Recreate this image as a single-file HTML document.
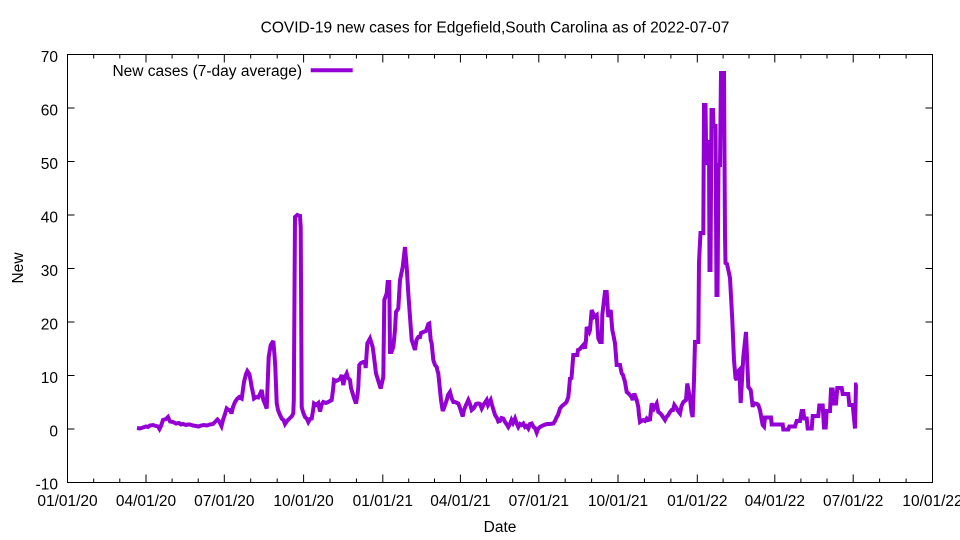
<!DOCTYPE html>
<html>
<head>
<meta charset="utf-8">
<style>
html,body{margin:0;padding:0;background:#fff;}
svg{display:block;}
text{font-family:"Liberation Sans",Arial,sans-serif;fill:#000;}
</style>
</head>
<body>
<svg width="960" height="540" viewBox="0 0 960 540" xmlns="http://www.w3.org/2000/svg">
<rect x="0" y="0" width="960" height="540" fill="#fff"/>
<text x="495" y="32.5" font-size="15.5" text-anchor="middle">COVID-19 new cases for Edgefield,South Carolina as of 2022-07-07</text>

<!-- y ticks -->
<g stroke="#000" stroke-width="1">
<line x1="67.5" y1="54.5" x2="74.5" y2="54.5"/><line x1="932.5" y1="54.5" x2="925.5" y2="54.5"/>
<line x1="67.5" y1="108" x2="74.5" y2="108"/><line x1="932.5" y1="108" x2="925.5" y2="108"/>
<line x1="67.5" y1="161.5" x2="74.5" y2="161.5"/><line x1="932.5" y1="161.5" x2="925.5" y2="161.5"/>
<line x1="67.5" y1="215" x2="74.5" y2="215"/><line x1="932.5" y1="215" x2="925.5" y2="215"/>
<line x1="67.5" y1="268.5" x2="74.5" y2="268.5"/><line x1="932.5" y1="268.5" x2="925.5" y2="268.5"/>
<line x1="67.5" y1="322" x2="74.5" y2="322"/><line x1="932.5" y1="322" x2="925.5" y2="322"/>
<line x1="67.5" y1="375.5" x2="74.5" y2="375.5"/><line x1="932.5" y1="375.5" x2="925.5" y2="375.5"/>
<line x1="67.5" y1="429" x2="74.5" y2="429"/><line x1="932.5" y1="429" x2="925.5" y2="429"/>
</g>
<g font-size="15.5" text-anchor="end">
<text x="58" y="61.8">70</text>
<text x="58" y="115.3">60</text>
<text x="58" y="168.8">50</text>
<text x="58" y="222.3">40</text>
<text x="58" y="275.8">30</text>
<text x="58" y="329.3">20</text>
<text x="58" y="382.8">10</text>
<text x="58" y="436.3">0</text>
<text x="58" y="489.5">-10</text>
</g>

<!-- x ticks -->
<g stroke="#000" stroke-width="1">
<!-- majors -->
<line x1="146" y1="482.5" x2="146" y2="474.5"/><line x1="146" y1="54.5" x2="146" y2="62.5"/>
<line x1="224.3" y1="482.5" x2="224.3" y2="474.5"/><line x1="224.3" y1="54.5" x2="224.3" y2="62.5"/>
<line x1="303.6" y1="482.5" x2="303.6" y2="474.5"/><line x1="303.6" y1="54.5" x2="303.6" y2="62.5"/>
<line x1="382.8" y1="482.5" x2="382.8" y2="474.5"/><line x1="382.8" y1="54.5" x2="382.8" y2="62.5"/>
<line x1="460.4" y1="482.5" x2="460.4" y2="474.5"/><line x1="460.4" y1="54.5" x2="460.4" y2="62.5"/>
<line x1="538.8" y1="482.5" x2="538.8" y2="474.5"/><line x1="538.8" y1="54.5" x2="538.8" y2="62.5"/>
<line x1="618" y1="482.5" x2="618" y2="474.5"/><line x1="618" y1="54.5" x2="618" y2="62.5"/>
<line x1="697.3" y1="482.5" x2="697.3" y2="474.5"/><line x1="697.3" y1="54.5" x2="697.3" y2="62.5"/>
<line x1="774.8" y1="482.5" x2="774.8" y2="474.5"/><line x1="774.8" y1="54.5" x2="774.8" y2="62.5"/>
<line x1="853.2" y1="482.5" x2="853.2" y2="474.5"/><line x1="853.2" y1="54.5" x2="853.2" y2="62.5"/>
<!-- minors -->
<line x1="93.7" y1="482.5" x2="93.7" y2="478.5"/><line x1="93.7" y1="54.5" x2="93.7" y2="58.5"/>
<line x1="119.8" y1="482.5" x2="119.8" y2="478.5"/><line x1="119.8" y1="54.5" x2="119.8" y2="58.5"/>
<line x1="172.1" y1="482.5" x2="172.1" y2="478.5"/><line x1="172.1" y1="54.5" x2="172.1" y2="58.5"/>
<line x1="198.2" y1="482.5" x2="198.2" y2="478.5"/><line x1="198.2" y1="54.5" x2="198.2" y2="58.5"/>
<line x1="250.7" y1="482.5" x2="250.7" y2="478.5"/><line x1="250.7" y1="54.5" x2="250.7" y2="58.5"/>
<line x1="277.2" y1="482.5" x2="277.2" y2="478.5"/><line x1="277.2" y1="54.5" x2="277.2" y2="58.5"/>
<line x1="330" y1="482.5" x2="330" y2="478.5"/><line x1="330" y1="54.5" x2="330" y2="58.5"/>
<line x1="356.4" y1="482.5" x2="356.4" y2="478.5"/><line x1="356.4" y1="54.5" x2="356.4" y2="58.5"/>
<line x1="408.7" y1="482.5" x2="408.7" y2="478.5"/><line x1="408.7" y1="54.5" x2="408.7" y2="58.5"/>
<line x1="434.5" y1="482.5" x2="434.5" y2="478.5"/><line x1="434.5" y1="54.5" x2="434.5" y2="58.5"/>
<line x1="486.5" y1="482.5" x2="486.5" y2="478.5"/><line x1="486.5" y1="54.5" x2="486.5" y2="58.5"/>
<line x1="512.7" y1="482.5" x2="512.7" y2="478.5"/><line x1="512.7" y1="54.5" x2="512.7" y2="58.5"/>
<line x1="565.2" y1="482.5" x2="565.2" y2="478.5"/><line x1="565.2" y1="54.5" x2="565.2" y2="58.5"/>
<line x1="591.6" y1="482.5" x2="591.6" y2="478.5"/><line x1="591.6" y1="54.5" x2="591.6" y2="58.5"/>
<line x1="644.4" y1="482.5" x2="644.4" y2="478.5"/><line x1="644.4" y1="54.5" x2="644.4" y2="58.5"/>
<line x1="670.9" y1="482.5" x2="670.9" y2="478.5"/><line x1="670.9" y1="54.5" x2="670.9" y2="58.5"/>
<line x1="723.1" y1="482.5" x2="723.1" y2="478.5"/><line x1="723.1" y1="54.5" x2="723.1" y2="58.5"/>
<line x1="749" y1="482.5" x2="749" y2="478.5"/><line x1="749" y1="54.5" x2="749" y2="58.5"/>
<line x1="800.9" y1="482.5" x2="800.9" y2="478.5"/><line x1="800.9" y1="54.5" x2="800.9" y2="58.5"/>
<line x1="827" y1="482.5" x2="827" y2="478.5"/><line x1="827" y1="54.5" x2="827" y2="58.5"/>
<line x1="879.6" y1="482.5" x2="879.6" y2="478.5"/><line x1="879.6" y1="54.5" x2="879.6" y2="58.5"/>
<line x1="906.1" y1="482.5" x2="906.1" y2="478.5"/><line x1="906.1" y1="54.5" x2="906.1" y2="58.5"/>
</g>
<g font-size="15.5" text-anchor="middle">
<text x="67.5" y="506">01/01/20</text>
<text x="146" y="506">04/01/20</text>
<text x="224.3" y="506">07/01/20</text>
<text x="303.6" y="506">10/01/20</text>
<text x="382.8" y="506">01/01/21</text>
<text x="460.4" y="506">04/01/21</text>
<text x="538.8" y="506">07/01/21</text>
<text x="618" y="506">10/01/21</text>
<text x="697.3" y="506">01/01/22</text>
<text x="774.8" y="506">04/01/22</text>
<text x="853.2" y="506">07/01/22</text>
<text x="932.5" y="506">10/01/22</text>
</g>
<text x="500" y="532" font-size="15.5" text-anchor="middle">Date</text>
<text transform="translate(23,268) rotate(-90)" font-size="15.5" text-anchor="middle">New</text>

<!-- legend -->
<text x="302" y="76" font-size="15.5" text-anchor="end">New cases (7-day average)</text>
<line x1="310.7" y1="70.3" x2="352.7" y2="70.3" stroke="#9400D3" stroke-width="4"/>

<!-- series -->
<polyline fill="none" stroke="#9400D3" stroke-width="4" stroke-linejoin="miter" stroke-miterlimit="3" points="
137,428 140,428.5 143,427.5 146,426.5 148,427 150,425.5 153,425 156,426 158,426.5 159.5,429 161,426 163,420 166,419 168,417 170,421.5 173,422 176,423.5 179,423 181,424.5 183,424 186,425 188,424.5 190,424.5 193,425.5 196,426 198.5,426.5 201,425.5 204,425 207,425.5 210,424.5 213,424 215,422 217.5,419.5 219,421 221.5,426 223,420 225,414 226.7,408.5 228.5,410 230,410 231.5,413.5 233,407 235,402 237,399 239.3,397 241.7,398.5 242.5,393 244,382 246,374 247.3,371 249.3,374 250.5,380 251.7,387 253,393 254,398.5 256,397 258.3,397.5 260,394 261.7,390 263.3,400 265,404 266.7,408.5 268.7,357 270.7,345 272,343 273.3,341 274.5,355 275.3,367 276.7,403 278,410 280,415 282,419 283.5,420 285,424 287,421 290,418 292,416 293.3,413 293.8,400 295,217 297.3,215 299.5,216 300,216 300.7,227 301.7,407 303,412 305,417 307,419 308.3,422 310,419 311.7,418.5 313,411 314,403.5 316,405 318.3,403 320,411.5 321.5,405 323.3,402 326,403 328.3,402 330,401 331.7,400 333,390 334,380 336,381 338.3,380 340,379 341.7,375 343.3,385 345,377 346.7,373.5 348,378 350,380 351,388 352.7,393.5 354,398 356,403.5 357.5,395 358.3,387 359.3,365 361,363 363.3,362 365,362 365.7,368 367.3,343.5 370,338.5 372.7,347 374,357 376,373.5 378,380 380.7,388.5 383.3,377 384.3,300 386.7,293.5 387.7,282 389.3,282 390,352 391.5,352 393.3,347 395,330 396,312 398.3,308.5 400,280 402.7,267 405,247 406.7,267 408.3,293.5 410,317 411.7,340 413,344 415,350 416.5,340 418.3,337 420,337 421,333 423.3,332 426,331 428.3,324 429.3,323.5 430.7,340 431.7,343.5 433.3,360 435,365 436.7,367 437.3,370 438.3,373.5 440,390 441,400 442.7,411 444,408 446.7,400 448,395 450,392 451.5,398 453.3,402 455,402 458.3,403.5 460,408 462.7,416.5 464,410 466,405 468.3,400 470,404 471.7,410 474,408 476,404 478.3,403.5 480,404 481.7,408.5 484,404 486.7,400 488,405 490.7,400 492,405 493.5,410 495,415 497,418 498.3,421.5 500,421 501.5,418 503.3,418.5 505,422 506.5,424 508.3,427 510,424 511.5,420 513,423 515,418.5 516.5,423 518.3,427 520,424 521.5,425 523.3,423.5 525,427 526.5,426 528.3,428.5 530,424 531.7,423.5 533.5,427 535,428 536.7,432.5 538,429 540,427 541.7,426 544,425 546.7,424 548,424 550,424 553.3,423.5 555,421 556.7,417 558,415 560,408.5 562,406 565,403.5 566.5,402 568.3,397 569,390 570,378.5 571.5,378 573.3,355 575,355 577.3,355 578,350 580,349 581.5,347 583.3,345 585,348.5 586,340 586.7,327 589.3,332 590,330 591.7,310 593,313 594,317 596.7,315 598.3,338.5 600,342 601.7,342 602.3,315 604,300 605,292 606.7,292 608.3,317 610.7,310 612.3,330 614,338 615,343.5 616.7,365 620,365 621.7,373.5 623,375 625,382 626.7,392 628,393 630,395 631.5,397 632.7,400 634.3,393.5 636.7,400 638.3,407 639,415 640,422 641.5,421 643.3,420 645,421 646.7,418.5 648,420 650,419.5 651.7,403.5 654,408.5 656.7,403.5 658.3,412 660,413 661.7,415 663,417 665,420 666.5,417 668.3,415 670,412 671.7,410 673,410 674.3,405 676.7,408.5 678,411 680,413.5 681.5,406 683.3,402 686,400 687.3,383.5 690,398.5 691.5,412 692.7,417 694,380 695,342 697.3,342 698.3,342 699,262 700.5,233 703.3,233 704,105 705.5,105 706,140 707,165 708,140 709,148 709.5,270 710.5,270 711.5,110 713,110 713.5,126 715.5,126 716.5,295 717.5,295 718.5,165 720,165 721,73 724,73 725,236 725.5,263 727,264 728.3,270 730,278 732.3,320 734,360 735.5,378 736.7,380 737.5,372 739.3,370 740.7,403 742,380 743.3,357 746,332 748.3,387 750.7,390 752.7,407 753.5,403 755,403.5 757,404 758.3,405 760,410 761.7,420 762.7,425 764,426.5 765,417.5 771,417.5 771.7,424.5 782.7,424.5 783.3,429.5 788.3,429.5 789.3,426.5 795,426.5 796.7,421 800,421 801.7,411 803.3,411 804.3,418.5 806.7,418.5 807.7,428.5 811.7,428.5 812.7,416 818.3,416 819.3,405.5 822.7,405.5 824,427.5 825.7,427.5 826.7,411 830,411 831,389.5 832.7,389.5 834,403.5 836,403.5 837.3,388 841.7,388 842.7,394 848.3,394 849.3,405 852.7,405 855,428.5 856,384.5 857.3,384.5"/>

<!-- frame -->
<rect x="67.5" y="54.5" width="865" height="428" fill="none" stroke="#000" stroke-width="1"/>
</svg>
</body>
</html>
